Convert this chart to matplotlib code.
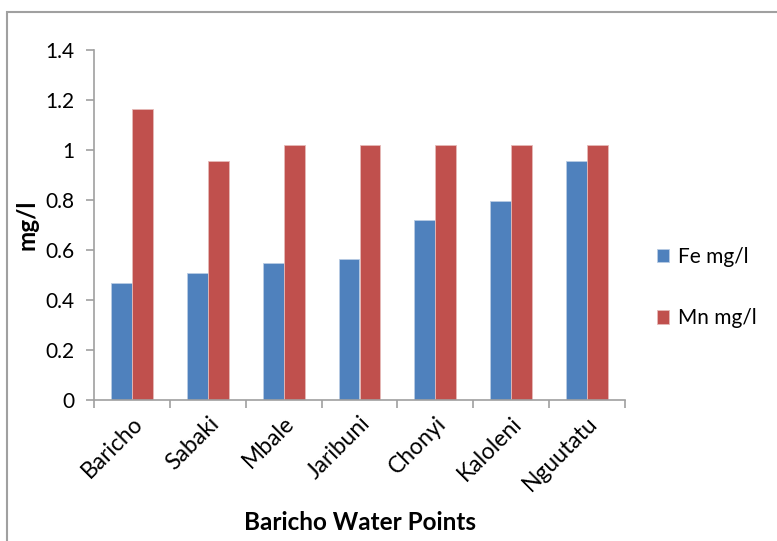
import matplotlib
matplotlib.use("Agg")
import matplotlib.pyplot as plt
import numpy as np
from matplotlib.patches import Rectangle

categories = ["Baricho", "Sabaki", "Mbale", "Jaribuni", "Chonyi", "Kaloleni", "Nguutatu"]
fe_values = [0.47, 0.51, 0.55, 0.565, 0.72, 0.795, 0.955]
mn_values = [1.165, 0.955, 1.02, 1.02, 1.02, 1.02, 1.02]
series_names = ["Fe mg/l", "Mn mg/l"]
y_ticks = [0, 0.2, 0.4, 0.6, 0.8, 1, 1.2, 1.4]
y_tick_labels = ["0", "0.2", "0.4", "0.6", "0.8", "1", "1.2", "1.4"]

plt.rcParams['font.family'] = ['Lato', 'DejaVu Sans']

W, H = 777, 541
fig = plt.figure(figsize=(W / 100, H / 100), dpi=100)
ax = fig.add_axes([94 / W, 1 - 400 / H, (625 - 94) / W, (400 - 50) / H])

x = np.arange(len(categories))
bw = 0.275
ax.bar(x - bw / 2, fe_values, bw, color="#4F81BD", edgecolor="#B8CCE4", linewidth=0.6, label=series_names[0])
ax.bar(x + bw / 2, mn_values, bw, color="#C0504D", edgecolor="#E6B9B8", linewidth=0.6, label=series_names[1])

ax.set_xlim(-0.5, len(categories) - 0.5)
ax.set_ylim(0, 1.4)
ax.set_yticks(y_ticks)
ax.set_yticklabels(y_tick_labels, fontsize=15)
ax.set_xticks(x)
ax.set_xticklabels(categories, rotation=45, ha="right", rotation_mode="anchor", fontsize=16.5)
ax.tick_params(axis="x", length=0, pad=9)
ax.set_xticks(np.arange(len(categories) + 1) - 0.5, minor=True)
ax.tick_params(axis="x", which="minor", length=6, width=1.2, color="#A0A0A0", direction="out")
ax.tick_params(axis="y", length=6, width=1.2, color="#A0A0A0", direction="out", pad=8)

for s in ["top", "right"]:
    ax.spines[s].set_visible(False)
for s in ["left", "bottom"]:
    ax.spines[s].set_color("#A0A0A0")
    ax.spines[s].set_linewidth(1.2)

ax.set_ylabel("mg/l", fontsize=17.5, fontweight="bold")
ax.yaxis.set_label_coords(-0.105, 0.5)
ax.set_xlabel("Baricho Water Points", fontsize=17.5, fontweight="bold")
ax.xaxis.set_label_coords(0.5, -0.318)

leg = fig.legend(loc="upper left", bbox_to_anchor=(638 / W, 1 - 228 / H), frameon=False,
                 fontsize=15, handlelength=0.6, handleheight=0.6, labelspacing=2.0,
                 handletextpad=0.4)

fig.patches.append(Rectangle((7 / W, -0.2), 1.2, 1.2 - 12 / H, transform=fig.transFigure,
                             fill=False, edgecolor="#A0A0A0", linewidth=1.5))

fig.savefig("out.png", dpi=100)
